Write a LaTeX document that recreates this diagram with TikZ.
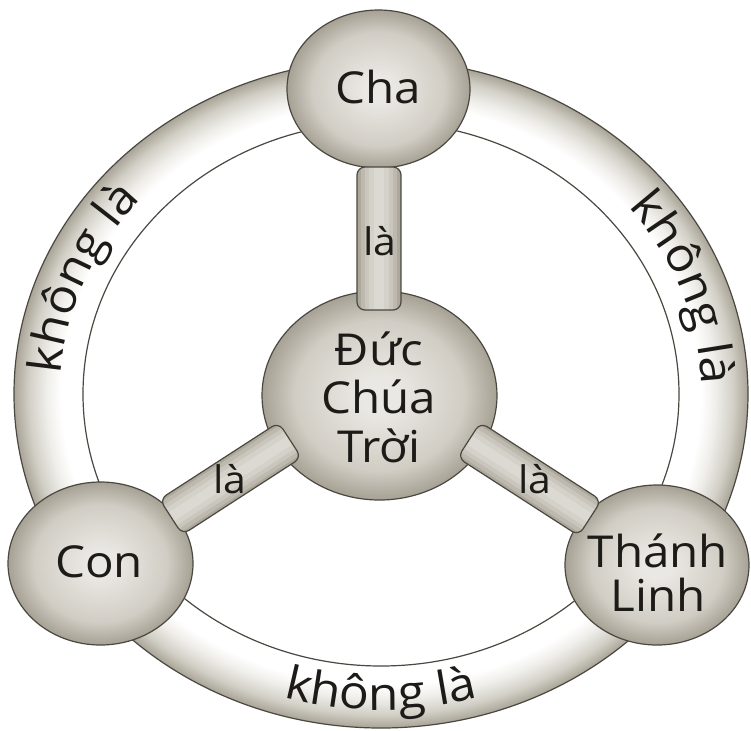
\documentclass[tikz,border=0pt]{standalone}
\usepackage{fontspec}
\setmainfont[FakeStretch=1.08]{Open Sans}
\usetikzlibrary{calc,decorations.text,shapes.geometric}

\definecolor{ballin}{HTML}{EAE8E4}
\definecolor{ballmid}{HTML}{D1CDC4}
\definecolor{ballout}{HTML}{A6A194}
\definecolor{edgecol}{HTML}{4A4840}
\definecolor{ringout}{HTML}{A9A497}
\definecolor{ringmid}{HTML}{D2CFC6}
\definecolor{ringlight}{HTML}{EFEEEA}
\definecolor{stemA}{HTML}{ADA89C}
\definecolor{stemB}{HTML}{BDB9AE}
\definecolor{stemC}{HTML}{CAC6BD}
\definecolor{stemD}{HTML}{D4D1C9}
\definecolor{stemE}{HTML}{DCD9D2}
\definecolor{textcol}{HTML}{1C1B18}

\pgfdeclareradialshading{ballshade}{\pgfpoint{0bp}{0bp}}{color(0bp)=(ballin); color(4bp)=(ballin); color(18bp)=(ballmid); color(25bp)=(ballout); color(50bp)=(ballout)}
\pgfdeclareradialshading{ringshade}{\pgfpoint{0bp}{0bp}}{color(0bp)=(white); color(20.4bp)=(white); color(21.8bp)=(white); color(22.8bp)=(ringlight); color(24bp)=(ringmid); color(25bp)=(ringout); color(50bp)=(ringout)}

\newcommand{\bigfont}{\fontsize{22}{24.3}\selectfont}
\newcommand{\tlfont}{\fontsize{22}{22}\selectfont}
\newcommand{\lafont}{\fontsize{19}{22}\selectfont}
\newcommand{\ringfont}{\fontsize{23}{27}\selectfont\color{textcol}}
\newcommand{\stemshape}[3]{($(#1)!#3!90:(#2)$) -- ($(#2)!#3!-90:(#1)$) -- ($(#2)!#3!90:(#1)$) -- ($(#1)!#3!-90:(#2)$) -- cycle}
\newcommand{\drawstem}[3]{%
  \begin{scope}
    \clip[rounded corners=4pt] \stemshape{#1}{#2}{#3};
    \fill[stemA] \stemshape{#1}{#2}{#3};
    \draw[stemB, line width=18pt] (#1) -- (#2);
    \draw[stemC, line width=14pt] (#1) -- (#2);
    \draw[stemD, line width=10pt] (#1) -- (#2);
    \draw[stemE, line width=5pt] (#1) -- (#2);
  \end{scope}
  \draw[edgeline, rounded corners=4pt] \stemshape{#1}{#2}{#3};}

\begin{document}
\begin{tikzpicture}[x=0.5pt,y=0.5pt,
  ball/.style={ellipse, shade, shading=ballshade, draw=edgecol, line width=0.6pt, inner sep=0pt},
  edgeline/.style={draw=edgecol, line width=0.6pt},
  lbl/.style={text=textcol, align=center, inner sep=0pt},
  ringtext/.style={decorate, decoration={text along path, text align=center, text={|\ringfont|#1}}}]

\fill[white] (0,0) rectangle (751,-730);
\useasboundingbox (0,0) rectangle (751,-730);

% ring
\coordinate (ringc) at (381,-394);
\shade[shading=ringshade] (ringc) ellipse [x radius=367, y radius=334];
\fill[white] (ringc) ellipse [x radius=298, y radius=272];
\draw[edgeline] (ringc) ellipse [x radius=367, y radius=334];
\draw[edgeline] (ringc) ellipse [x radius=298, y radius=272];

% ring texts
\path[ringtext={không là}] ($(ringc)+(204:321 and 293)$) arc [start angle=204, end angle=112, x radius=321, y radius=293];
\path[ringtext={không là}] ($(ringc)+(66:321 and 293)$) arc [start angle=66, end angle=-26, x radius=321, y radius=293];
\path[ringtext={không là}] ($(ringc)+(235:347 and 316)$) arc [start angle=235, end angle=305, x radius=347, y radius=316];

% circles
\node[ball, minimum width=91.5pt, minimum height=79pt] (cha) at (378.5,-89) {};
\node[ball, minimum width=117.5pt, minimum height=104.5pt] (god) at (379.5,-395.5) {};
\node[ball, minimum width=92.5pt, minimum height=81.5pt] (con) at (100.5,-563.5) {};
\node[ball, minimum width=92pt, minimum height=80pt] (tl) at (657,-565) {};

% stems
\coordinate (chaA) at (379,-167);
\coordinate (chaB) at (379,-310);
\coordinate (conA) at (171,-517);
\coordinate (conB) at (290,-440);
\coordinate (tlA) at (590,-518);
\coordinate (tlB) at (469,-440);
\drawstem{chaA}{chaB}{11pt}
\drawstem{conA}{conB}{10.5pt}
\drawstem{tlA}{tlB}{10.5pt}

% texts
\node[lbl, font=\bigfont] (chaT) at (378,-87) {Cha};
\node[lbl, font=\bigfont] (godT) at (379,-397) {Đức\\Chúa\\Trời};
\node[lbl, font=\bigfont] (conT) at (99,-562) {Con};
\node[lbl, font=\tlfont] (tlT) at (658,-573) {Thánh\\Linh};
\node[lbl, font=\lafont, anchor=base] (la1) at (380,-255) {là};
\node[lbl, font=\lafont, anchor=base] (la2) at (230,-493) {là};
\node[lbl, font=\lafont, anchor=base] (la3) at (535,-493) {là};
\end{tikzpicture}
\end{document}
